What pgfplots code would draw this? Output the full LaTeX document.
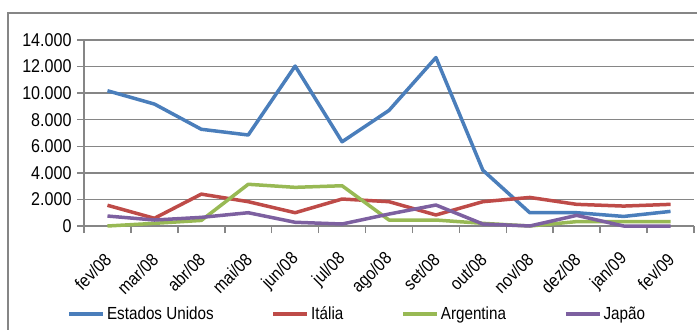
\documentclass[border=0pt]{standalone}
\usepackage{fontspec}
\setmainfont{Liberation Sans}[FakeStretch=0.87]
\usepackage{pgfplots}
\pgfplotsset{compat=1.18}
\definecolor{cUS}{HTML}{4A7EBB}
\definecolor{cIT}{HTML}{BE4B48}
\definecolor{cAR}{HTML}{98B954}
\definecolor{cJP}{HTML}{7D60A0}
\definecolor{cgrid}{HTML}{868686}
\begin{document}
\begin{tikzpicture}[x=1bp,y=1bp]
\useasboundingbox (0,0) rectangle (697,329);
\draw[cgrid, line width=1.5bp] (8,-5) -- (8,316) -- (702,316);
\begin{axis}[
  at={(84bp,103bp)}, anchor=south west,
  scale only axis, width=610bp, height=186bp,
  xmin=-0.5, xmax=12.5, ymin=0, ymax=14000,
  axis x line*=bottom, axis y line*=left,
  axis line style={cgrid, line width=1.5bp},
  tick align=outside,
  major tick length=7bp, minor tick length=7bp,
  xtick={0,...,12},
  xticklabels={fev/08,mar/08,abr/08,mai/08,jun/08,jul/08,ago/08,set/08,out/08,nov/08,dez/08,jan/09,fev/09},
  major x tick style={draw=none},
  minor xtick={-0.5,0.5,...,12.5},
  minor x tick style={cgrid, line width=1.5bp},
  ytick={0,2000,...,14000},
  y tick style={cgrid, line width=1.5bp},
  ymajorgrids, grid style={cgrid, line width=1.5bp},
  scaled y ticks=false,
  /pgf/number format/.cd, 1000 sep={.}, assume math mode=true, /pgfplots/.cd,
  yticklabel style={font=\fontsize{18.5bp}{21bp}\selectfont, xshift=-2bp},
  xticklabel style={font=\fontsize{18bp}{21bp}\selectfont, xshift=3bp, yshift=-21bp, rotate=45, anchor=east},
  legend columns=4,
  legend style={at={(0.448,-0.473)}, anchor=center, draw=none, fill=none,
    font=\fontsize{17.5bp}{20bp}\selectfont,
    /tikz/every even column/.append style={column sep=56bp},
    inner sep=0pt},
  legend image code/.code={\draw[#1, line width=3.5bp] (0bp,0bp) -- (34bp,0bp);},
  every axis plot/.append style={line width=3.5bp, line join=round},
  clip=false,
]
\addplot[cUS] coordinates {(0,10180)(1,9180)(2,7280)(3,6850)(4,12040)(5,6340)(6,8700)(7,12680)(8,4200)(9,1000)(10,1000)(11,720)(12,1100)};
\addlegendentry{Estados Unidos}
\addplot[cIT] coordinates {(0,1560)(1,580)(2,2400)(3,1830)(4,1000)(5,2030)(6,1830)(7,830)(8,1830)(9,2150)(10,1630)(11,1500)(12,1630)};
\addlegendentry{Itália}
\addplot[cAR] coordinates {(0,0)(1,200)(2,420)(3,3140)(4,2910)(5,3030)(6,450)(7,450)(8,200)(9,0)(10,330)(11,330)(12,330)};
\addlegendentry{Argentina}
\addplot[cJP] coordinates {(0,750)(1,450)(2,650)(3,1000)(4,280)(5,150)(6,900)(7,1580)(8,150)(9,0)(10,800)(11,0)(12,0)};
\addlegendentry{Japão}
\end{axis}
\end{tikzpicture}
\end{document}
